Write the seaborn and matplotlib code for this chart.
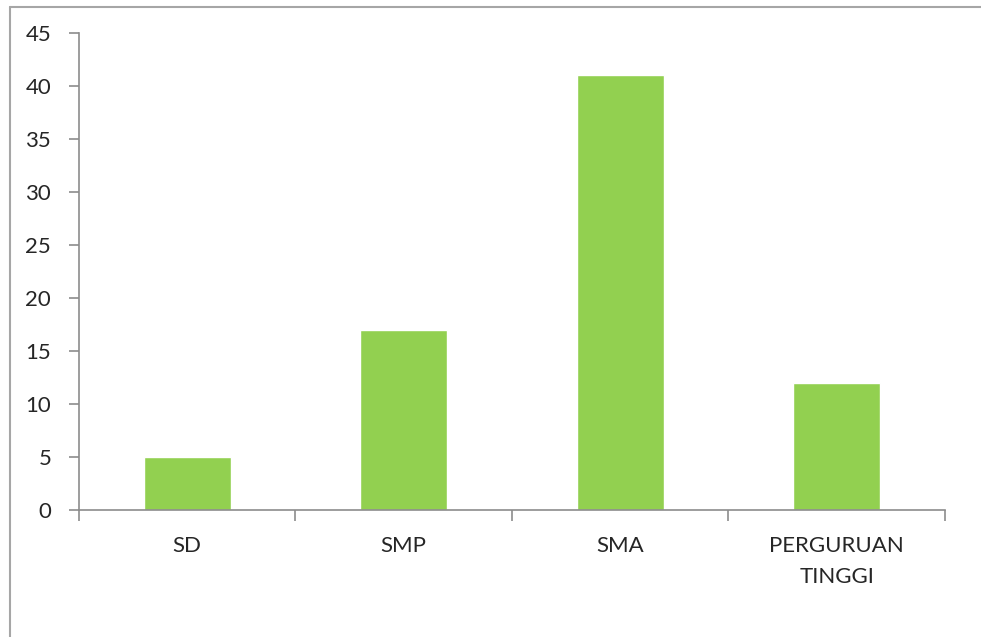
import matplotlib
matplotlib.use("Agg")
import matplotlib.pyplot as plt
import pandas as pd
import seaborn as sns
from matplotlib.lines import Line2D

# Data
kategori = ["SD", "SMP", "SMA", "PERGURUAN\nTINGGI"]
jumlah = [5, 17, 41, 12]
y_ticks = [0, 5, 10, 15, 20, 25, 30, 35, 40, 45]

df = pd.DataFrame({"kategori": kategori, "jumlah": jumlah})

sns.set_style("white")
plt.rcParams['font.family'] = ['Lato', 'DejaVu Sans']

fig = plt.figure(figsize=(9.81, 6.37), dpi=100)
ax = fig.add_axes([0.0805, 0.1994, 0.8828, 0.7488])

sns.barplot(data=df, x="kategori", y="jumlah", color="#92D050",
            saturation=1, width=0.4, ax=ax)

grey = "#8c8c8c"
ax.set_ylim(0, 45)
ax.set_yticks(y_ticks)
ax.set_xlim(-0.5, len(kategori) - 0.5)
ax.set_xlabel("")
ax.set_ylabel("")
for s in ["top", "right"]:
    ax.spines[s].set_visible(False)
for s in ["left", "bottom"]:
    ax.spines[s].set_color(grey)
    ax.spines[s].set_linewidth(1.2)

ax.tick_params(axis="y", direction="out", length=7, width=1.2, color=grey,
               labelsize=16, pad=13, left=True)
ax.tick_params(axis="x", length=0, labelsize=16, pad=19)
for lbl in ax.get_xticklabels():
    lbl.set_linespacing(1.65)

# category boundary ticks below the x axis (Excel style)
ax.set_xticks([i - 0.5 for i in range(len(kategori) + 1)], minor=True)
ax.tick_params(axis="x", which="minor", direction="out", length=8,
               width=1.2, color=grey, bottom=True)

# chart area border (only top/left visible in crop)
fig.add_artist(Line2D([10 / 981, 10 / 981], [0, 1 - 7 / 637],
                      transform=fig.transFigure, color="#a6a6a6", lw=1.5))
fig.add_artist(Line2D([10 / 981, 1], [1 - 7 / 637, 1 - 7 / 637],
                      transform=fig.transFigure, color="#a6a6a6", lw=1.5))

fig.savefig("out.png", dpi=100)
